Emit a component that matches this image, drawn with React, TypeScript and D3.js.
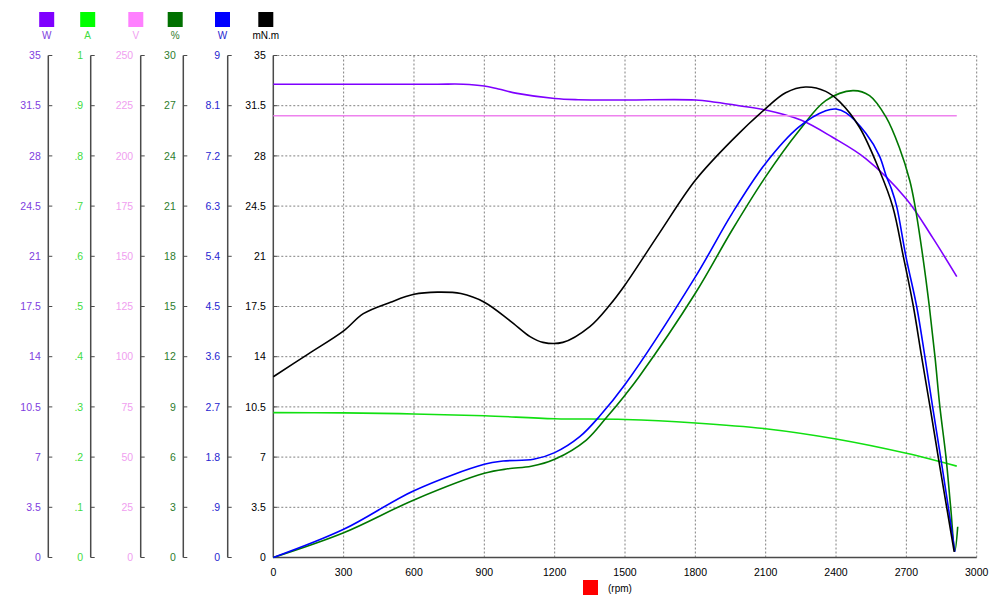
import React from "react";
import * as d3 from "d3";

type P = [number, number];

// rpm on x, each series in its own units
const rpmTicks = [0, 300, 600, 900, 1200, 1500, 1800, 2100, 2400, 2700, 3000];

const powerOut: P[] = [ // W (purple, 0-35)
  [0, 33.0], [400, 33.0], [700, 33.0], [810, 33.0], [900, 32.87], [960, 32.66], [1040, 32.36],
  [1200, 32.0], [1300, 31.92], [1500, 31.9], [1800, 31.9], [1886, 31.74], [1987, 31.5],
  [2100, 31.2], [2250, 30.5], [2385, 29.3], [2528, 27.8], [2700, 25.0], [2812, 22.3], [2915, 19.58],
];
const current: P[] = [ // A (0-1)
  [0, 0.2885], [300, 0.288], [600, 0.286], [900, 0.2825], [1200, 0.2765], [1500, 0.275],
  [1800, 0.268], [2100, 0.2565], [2400, 0.236], [2700, 0.2075], [2915, 0.182],
];
const voltage: P[] = [ // V (0-250)
  [0, 220], [2915, 220],
];
const efficiency: P[] = [ // % (0-30)
  [0, 0], [300, 1.48], [600, 3.44], [900, 5.03], [1000, 5.3], [1100, 5.45], [1200, 5.87],
  [1335, 7.02], [1420, 8.35], [1500, 9.7], [1560, 10.8], [1800, 15.79], [1957, 19.57],
  [2100, 22.76], [2242, 25.5], [2356, 27.3], [2472, 27.9], [2543, 27.6], [2614, 26.3],
  [2670, 24.5], [2715, 22.5], [2737, 21.0], [2770, 18.0], [2798, 15.0], [2822, 12.0],
  [2843, 9.0], [2869, 6.0], [2889, 3.0], [2907, 0.4], [2919, 1.84],
];
const powerIn: P[] = [ // W (blue, 0-9)
  [0, 0], [300, 0.506], [600, 1.198], [900, 1.671], [980, 1.73], [1110, 1.76], [1200, 1.88],
  [1307, 2.166], [1393, 2.54], [1500, 3.1], [1800, 5.03], [1957, 6.17], [2100, 7.07],
  [2242, 7.72], [2356, 8.01], [2400, 8.04], [2443, 7.97], [2528, 7.6], [2585, 7.2],
  [2614, 6.84], [2637, 6.6], [2659, 6.29], [2698, 5.4], [2744, 4.5], [2779, 3.6],
  [2812, 2.7], [2846, 1.8], [2879, 0.9], [2907, 0.1],
];
const torque: P[] = [ // mN.m (0-35)
  [0, 12.6], [150, 14.2], [300, 15.8], [384, 17.0], [500, 17.8], [600, 18.35], [700, 18.5],
  [800, 18.4], [900, 17.8], [1010, 16.5], [1095, 15.4], [1150, 15.0], [1235, 15.0],
  [1350, 16.1], [1435, 17.6], [1500, 19.0], [1646, 22.6], [1800, 26.3], [1957, 29.1],
  [2100, 31.3], [2185, 32.4], [2270, 32.8], [2356, 32.5], [2414, 31.8], [2500, 30.0],
  [2585, 27.0], [2642, 24.46], [2687, 21.0], [2730, 17.5], [2765, 14.0], [2801, 10.5],
  [2836, 7.0], [2872, 3.5], [2904, 0.4],
];

const wLabels = ["0", "3.5", "7", "10.5", "14", "17.5", "21", "24.5", "28", "31.5", "35"];
const aLabels = ["0", ".1", ".2", ".3", ".4", ".5", ".6", ".7", ".8", ".9", "1"];
const vLabels = ["0", "25", "50", "75", "100", "125", "150", "175", "200", "225", "250"];
const pctLabels = ["0", "3", "6", "9", "12", "15", "18", "21", "24", "27", "30"];
const pinLabels = ["0", ".9", "1.8", "2.7", "3.6", "4.5", "5.4", "6.3", "7.2", "8.1", "9"];
const tqLabels = wLabels;

const axisMax = [35, 1, 250, 30, 9, 35];
const unitNames = ["W", "A", "V", "%", "W", "mN.m"];

const FONT = "'Liberation Sans', Arial, sans-serif";

export default function App() {
  const X0 = 273.3, X1 = 976.7, Y0 = 557.5, Y1 = 55.5;
  const x = d3.scaleLinear().domain([0, 3000]).range([X0, X1]);

  const axes = [
    { ax: 48.3, max: axisMax[0], labels: wLabels, text: "#8040e0", sq: "#7f00ff", line: "#7f00ff", data: powerOut, leg: 46.7 },
    { ax: 90.7, max: axisMax[1], labels: aLabels, text: "#3fdc3f", sq: "#00ff00", line: "#11e011", data: current, leg: 87.7 },
    { ax: 140.7, max: axisMax[2], labels: vLabels, text: "#f0a0f0", sq: "#ff80ff", line: "#ee82ee", data: voltage, leg: 135.8 },
    { ax: 183.3, max: axisMax[3], labels: pctLabels, text: "#2e7d2e", sq: "#007000", line: "#007700", data: efficiency, leg: 175.2 },
    { ax: 227.7, max: axisMax[4], labels: pinLabels, text: "#2626d0", sq: "#0000ff", line: "#0000ff", data: powerIn, leg: 222.5 },
    { ax: X0, max: axisMax[5], labels: tqLabels, text: "#000000", sq: "#000000", line: "#000000", data: torque, leg: 265.8 },
  ];

  const mainY = d3.scaleLinear().domain([0, 35]).range([Y0, Y1]);
  const gridY = d3.range(0, 11).map((i) => i * 3.5);

  return (
    <svg width={1000} height={605} style={{ position: "absolute", left: 0, top: 0, background: "#fff" }} fontFamily={FONT}>
      <rect x={0} y={0} width={1000} height={605} fill="#fff" />
      {/* grid */}
      <g stroke="#808080" strokeWidth={1} strokeDasharray="2,2">
        {rpmTicks.slice(1).map((t) => (
          <line key={"gx" + t} x1={x(t)} x2={x(t)} y1={Y1} y2={Y0} />
        ))}
        {gridY.slice(1).map((v) => (
          <line key={"gy" + v} x1={X0} x2={X1} y1={mainY(v)} y2={mainY(v)} />
        ))}
      </g>
      {/* legend + y axes */}
      {axes.map((a, i) => {
        const y = d3.scaleLinear().domain([0, a.max]).range([Y0, Y1]);
        const ticks = d3.range(0, 11).map((k) => (a.max * k) / 10);
        return (
          <g key={"ax" + i}>
            <rect x={a.leg - 7.5} y={12} width={15} height={15} fill={a.sq} />
            <text x={a.leg} y={39} fontSize={10} textAnchor="middle" fill={a.text}>{unitNames[i]}</text>
            <line x1={a.ax} x2={a.ax} y1={Y1} y2={Y0} stroke="#4a4a4a" strokeWidth={1.5} />
            {ticks.map((t, k) => (
              <g key={k}>
                <line x1={a.ax} x2={a.ax + 4} y1={y(t)} y2={y(t)} stroke="#4a4a4a" strokeWidth={1} />
                <text x={a.ax - 7.5} y={y(t)} dy="0.36em" fontSize={10.5} textAnchor="end" fill={a.text}>
                  {a.labels[k]}
                </text>
              </g>
            ))}
          </g>
        );
      })}
      {/* x axis */}
      <line x1={X0} x2={X1} y1={Y0} y2={Y0} stroke="#4a4a4a" strokeWidth={1.5} />
      {rpmTicks.map((t) => (
        <text key={"xl" + t} x={x(t)} y={576} fontSize={10.5} textAnchor="middle" fill="#000">{t}</text>
      ))}
      <rect x={583} y={580} width={15} height={15} fill="#ff0000" />
      <text x={608} y={592} fontSize={10} fill="#000">(rpm)</text>
      {/* series */}
      {axes.map((a, i) => {
        const y = d3.scaleLinear().domain([0, a.max]).range([Y0, Y1]);
        const gen = d3.line<P>().x((d) => x(d[0])).y((d) => y(d[1])).curve(d3.curveCatmullRom.alpha(0.5));
        return <path key={"s" + i} d={gen(a.data) || ""} fill="none" stroke={a.line} strokeWidth={1.6} />;
      })}
    </svg>
  );
}
